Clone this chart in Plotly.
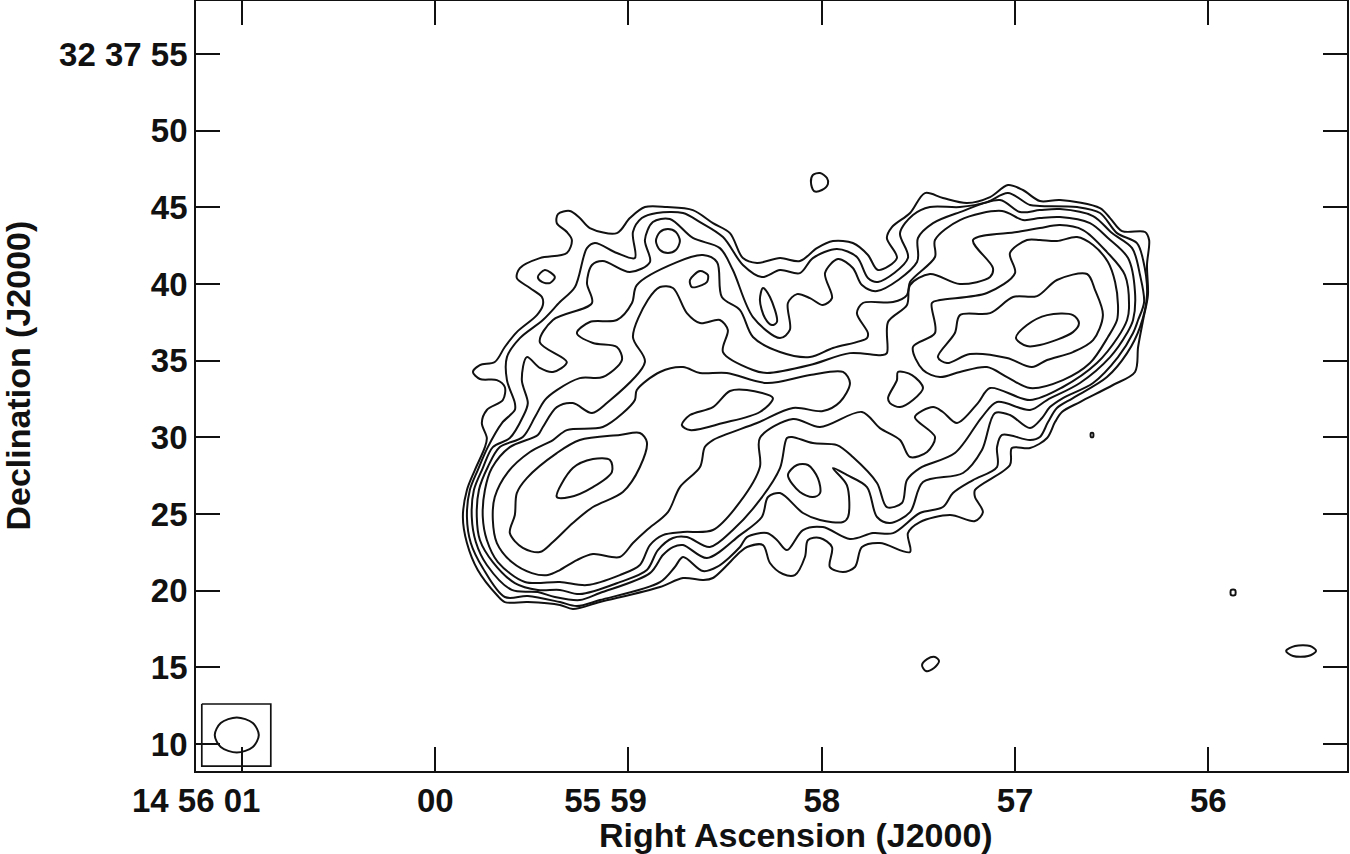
import plotly.graph_objects as go

# Right ascension in seconds (60 = 14 56 00), declination in arcsec past 32 37 00
ra_a = [59.805,59.769,59.692,59.640,59.578,59.474,59.443,59.448,59.510,59.578,59.562,59.459,59.319,59.293,59.319,59.371,59.365,59.303,59.252,59.200,59.060,58.993,58.915,58.801,58.667,58.563,58.475,58.408,58.335,58.216,58.113,58.025,57.942,57.839,57.761,57.709,57.611,57.663,57.637,57.543,57.466,57.373,57.248,57.129,57.036,56.959,56.871,56.767,56.560,56.508,56.446,56.327,56.306,56.317,56.312,56.337,56.363,56.379,56.493,56.664,56.757,56.793,56.834,56.922,57.016,57.026,57.207,57.207,57.166,57.207,57.336,57.492,57.554,57.543,57.699,57.792,57.828,57.890,57.958,57.947,58.009,58.071,58.087,58.139,58.201,58.268,58.304,58.387,58.423,58.563,58.615,58.718,58.837,59.148,59.288,59.355,59.521,59.640,59.681,59.780,59.836,59.857,59.836,59.795,59.743,59.733,59.759,59.733,59.650,59.640,59.681,59.769]
dec_a = [34.27,34.72,34.92,35.90,36.87,37.98,38.64,39.16,39.75,40.40,41.05,41.70,42.03,42.88,43.40,43.98,44.57,44.77,44.31,43.66,43.33,44.31,45.03,45.03,44.83,43.98,43.33,41.70,41.38,41.70,41.51,42.35,42.81,42.68,41.90,40.92,41.70,43.01,43.72,44.64,45.94,45.62,45.29,45.68,46.46,46.14,45.42,45.49,44.96,44.31,43.46,43.40,42.88,41.25,39.29,37.66,35.90,34.27,33.42,32.31,31.66,31.00,29.96,29.31,29.31,28.20,26.57,26.11,25.13,24.55,24.94,24.48,23.76,22.52,23.11,22.85,21.55,21.22,21.55,22.85,23.44,23.31,22.20,21.02,21.09,21.81,22.98,22.85,22.52,20.83,20.70,20.83,20.24,19.26,18.81,19.07,19.26,19.26,19.72,21.35,23.11,24.81,26.57,27.87,29.37,29.96,30.94,31.79,32.44,33.29,33.74,33.81]

ra_b = [59.629,59.629,59.562,59.443,59.355,59.277,59.215,59.174,59.060,58.967,58.977,58.931,58.853,58.718,58.630,58.511,58.408,58.310,58.216,58.113,58.046,57.921,57.818,57.761,57.709,57.554,57.595,57.528,57.440,57.285,57.145,57.036,56.922,56.871,56.679,56.560,56.472,56.369,56.337,56.317,56.353,56.420,56.524,56.700,56.783,56.829,56.871,56.922,57.067,57.093,57.093,57.217,57.321,57.373,57.492,57.631,57.735,57.854,57.994,58.097,58.180,58.232,58.284,58.387,58.423,58.542,58.615,58.718,58.760,58.837,59.148,59.267,59.355,59.521,59.640,59.754,59.816,59.836,59.821,59.780,59.728,59.655,59.588,59.588]
dec_b = [33.74,35.24,36.48,37.66,38.83,39.81,42.35,42.68,42.03,41.70,43.40,44.31,44.64,44.64,44.05,43.07,41.25,40.46,40.92,40.72,41.70,42.29,41.77,40.40,40.14,41.70,43.33,44.51,45.03,45.03,45.35,45.94,45.16,45.10,45.03,44.64,43.33,42.68,41.57,39.29,37.20,35.50,33.94,32.57,31.92,31.00,30.03,29.83,30.16,29.37,28.07,27.22,26.37,25.46,25.07,23.76,23.76,23.37,24.15,23.96,22.65,23.31,23.76,23.50,22.85,21.55,21.28,22.20,21.55,20.56,19.39,19.00,19.26,19.65,19.59,21.48,23.11,24.81,26.57,27.87,29.37,30.94,31.79,32.24]

ra_c = [59.521,59.552,59.526,59.459,59.391,59.319,59.459,59.391,59.189,59.215,59.189,59.133,58.993,58.889,58.915,58.874,58.786,58.667,58.527,58.460,58.356,58.216,58.165,58.175,58.128,58.061,57.994,57.947,57.983,57.916,57.839,57.792,57.714,57.507,57.502,57.424,57.285,57.078,56.974,56.871,56.767,56.596,56.498,56.394,56.353,56.332,56.363,56.389,56.467,56.596,56.752,56.819,56.860,56.922,57.026,57.104,57.171,57.269,57.476,57.543,57.647,57.714,57.766,57.870,57.942,57.870,57.864,57.890,58.009,58.097,58.216,58.278,58.310,58.423,58.594,58.718,58.770,58.822,58.889,59.148,59.252,59.381,59.469,59.604,59.733,59.790,59.811,59.800,59.754,59.702,59.614,59.547]
dec_c = [32.24,33.74,35.24,34.53,34.27,34.92,36.22,37.66,38.77,40.07,41.25,41.51,40.79,41.44,42.88,44.05,44.25,43.01,42.35,40.92,37.85,36.48,37.01,38.77,39.35,39.09,38.64,39.09,40.72,41.64,41.05,39.94,39.55,41.44,43.01,43.98,44.70,45.49,44.70,44.83,44.90,44.44,43.33,42.35,40.59,38.83,37.66,36.81,35.24,33.55,32.57,31.98,31.27,30.61,31.46,31.59,29.18,27.68,27.09,25.13,24.42,24.81,26.76,27.55,28.00,26.89,24.81,24.48,24.61,25.07,26.37,26.11,24.81,23.63,22.13,22.98,22.85,22.33,21.15,19.85,19.39,19.59,19.91,20.05,21.68,23.18,24.81,26.57,28.00,29.37,29.96,31.33]

ra_d = [59.433,59.371,59.252,59.133,59.034,59.060,59.184,59.267,59.200,59.060,58.982,58.957,58.749,58.615,58.542,58.517,58.423,58.356,58.216,58.061,57.942,57.766,57.761,57.818,57.787,57.631,57.559,57.543,57.414,57.414,57.285,57.067,56.959,56.871,56.767,56.612,56.519,56.415,56.379,56.389,56.420,56.508,56.664,56.834,56.922,57.093,57.171,57.311,57.492,57.559,57.585,57.663,57.714,57.839,57.921,58.046,58.154,58.180,58.216,58.320,58.460,58.579,58.698,58.770,58.848,58.905,59.045,59.252,59.355,59.469,59.588,59.702,59.769,59.785,59.774,59.728,59.666,59.547,59.484]
dec_d = [32.44,33.09,33.87,33.94,35.05,35.90,36.16,36.81,37.53,37.66,38.77,39.94,41.44,41.90,41.44,39.16,38.31,36.55,35.57,35.24,35.83,36.48,36.81,38.11,38.77,38.83,39.29,40.14,41.77,42.88,44.18,44.77,44.18,44.31,44.38,43.98,43.01,41.70,39.48,37.66,36.81,35.24,33.55,32.44,31.79,32.31,31.33,28.98,28.00,27.22,25.72,25.46,27.03,28.72,29.50,29.63,30.03,29.96,28.00,25.92,23.96,22.85,23.50,23.44,22.65,21.35,20.56,19.78,20.05,20.05,20.50,21.87,23.31,24.81,26.57,28.07,29.37,30.03,31.33]

ra_e = [59.443,59.371,59.288,59.189,59.112,58.915,58.977,58.900,58.837,58.770,58.698,58.630,58.527,58.486,58.511,58.356,58.284,58.061,57.854,57.688,57.663,57.657,57.559,57.543,57.440,57.285,57.129,57.114,57.217,56.990,56.871,56.767,56.648,56.524,56.431,56.410,56.420,56.467,56.576,56.752,56.922,57.129,57.192,57.300,57.373,57.424,57.518,57.414,57.455,57.543,57.595,57.699,57.792,58.009,58.149,58.320,58.320,58.423,58.563,58.718,58.822,58.889,58.941,59.045,59.215,59.355,59.536,59.676,59.733,59.754,59.743,59.707,59.614,59.469]
dec_e = [30.68,31.98,32.24,31.59,32.24,34.92,36.55,38.96,39.81,39.75,38.11,37.46,37.66,37.01,35.57,34.40,34.20,34.72,35.50,35.37,35.50,37.53,38.64,39.94,40.66,40.01,40.46,41.05,42.88,43.40,43.66,43.85,43.53,42.09,40.59,38.44,37.66,36.55,34.85,33.29,32.44,33.22,32.24,30.94,31.66,31.98,31.33,30.03,29.05,28.72,29.83,30.61,31.66,30.68,31.20,29.96,28.07,25.79,23.96,23.83,23.63,22.98,21.68,21.02,20.37,20.57,20.57,21.87,23.31,24.81,26.57,28.00,29.37,30.16]

ra_f1 = [58.977,59.045,59.184,59.267,59.355,59.417,59.500,59.604,59.681,59.702,59.692,59.624,59.510,59.391,59.319,59.133,59.029,58.967,58.957,58.837,58.718,58.630,58.491,58.284,58.061,57.890,57.854,57.906,57.994,58.149,58.335,58.563,58.605,58.630,58.734,58.796,58.905]
dec_f1 = [23.11,22.20,22.39,22.00,21.35,21.02,21.15,21.87,23.11,24.61,26.11,27.74,29.05,29.83,30.48,30.68,31.59,32.44,33.09,34.27,34.59,34.20,34.20,33.55,34.07,34.27,33.55,32.31,31.72,31.92,30.94,29.83,29.37,28.07,26.76,25.13,23.96]

ra_f2 = [57.026,56.938,56.871,56.783,56.679,56.596,56.519,56.482,56.467,56.472,56.519,56.612,56.752,56.922,57.041,57.145,57.285,57.388,57.476,57.528,57.414,57.430,57.388,57.145,57.000]
dec_f2 = [42.03,42.88,42.88,42.81,43.07,42.55,41.44,40.14,38.64,37.66,36.55,34.85,33.74,33.22,33.94,34.59,34.27,33.94,34.40,35.90,36.81,38.77,38.96,39.42,40.72]

ra_g1 = [59.614,59.588,59.578,59.526,59.371,59.252,59.045,58.941,58.905,58.941,59.029,59.184,59.288,59.391,59.459,59.547]
dec_g1 = [23.76,24.94,26.37,27.35,28.98,29.83,30.16,30.29,29.70,28.07,26.44,25.46,24.42,23.18,22.52,22.79]
ra_h1 = [59.371,59.288,59.184,59.096,59.086,59.184,59.303]
dec_h1 = [26.11,28.00,28.59,28.53,27.74,26.76,26.11]
ra_g2 = [58.724,58.682,58.563,58.475,58.387,58.253,58.320,58.511,58.682]
dec_g2 = [30.81,31.46,31.98,33.03,33.09,32.57,31.66,30.94,30.48]
ra_g3 = [58.175,58.128,58.071,58.020,58.009,58.046,58.113]
dec_g3 = [27.55,28.20,28.20,27.35,26.37,26.11,26.44]
ra_g4 = [57.606,57.533,57.476,57.528,57.595,57.647,57.657,57.611]
dec_g4 = [34.27,34.07,33.22,32.44,31.98,32.24,32.57,33.74]
ra_g5 = [57.399,57.311,57.285,57.129,57.010,56.886,56.783,56.627,56.586,56.545,56.596,56.700,56.834,56.912,57.041,57.233,57.352]
dec_g5 = [35.24,36.81,37.98,38.11,39.16,39.22,40.27,40.66,39.62,37.98,36.35,35.57,35.05,34.59,35.18,35.44,34.85]
ra_h2 = [56.995,56.938,56.834,56.700,56.669,56.700,56.871,56.938]
dec_h2 = [36.48,37.33,37.98,37.98,37.46,36.87,36.03,35.96]

ra_s1 = [58.304,58.268,58.232,58.258,58.294,58.320]
dec_s1 = [39.75,39.16,37.53,37.33,37.79,38.96]
ra_s2 = [58.589,58.630,58.682,58.672,58.620,58.594]
dec_s2 = [40.59,40.85,40.27,39.81,39.94,40.14]
ra_s3 = [58.734,58.755,58.796,58.837,58.858,58.837,58.796,58.755]
dec_s3 = [42.81,43.40,43.59,43.40,42.81,42.22,42.03,42.22]
ra_s4 = [59.469,59.433,59.381,59.407,59.448]
dec_s4 = [40.46,40.92,40.46,40.07,40.14]
ra_s5 = [58.056,58.046,58.009,57.973,57.968,57.999,58.040]
dec_s5 = [46.66,47.12,47.25,46.92,46.53,46.14,46.07]
ra_s6 = [56.607,56.596,56.596,56.607]
dec_s6 = [30.29,30.29,30.03,30.03]
ra_s7 = [55.882,55.861,55.861,55.882]
dec_s7 = [20.05,20.05,19.72,19.72]
ra_s8 = [57.481,57.455,57.414,57.393,57.419,57.461]
dec_s8 = [15.15,15.54,15.68,15.41,14.96,14.76]
ra_s9 = [55.597,55.551,55.473,55.442,55.483,55.561]
dec_s9 = [16.07,16.39,16.39,16.07,15.74,15.74]

ra_beam = [61.141,61.110,61.027,60.944,60.913,60.944,61.027,61.110]
dec_beam = [10.59,11.37,11.73,11.37,10.59,9.80,9.45,9.80]
ra_box = [61.208,60.851,60.851,61.208,61.208]
dec_box = [12.61,12.61,8.56,8.56,12.61]

ra_ticks = [61,60,59,58,57,56]
ra_labels = ["14 56 01","00","55 59","58","57","56"]
dec_ticks = [10,15,20,25,30,35,40,45,50,55]
dec_labels = ["10","15","20","25","30","35","40","45","50","32 37 55"]

contours = [(ra_a,dec_a),(ra_b,dec_b),(ra_c,dec_c),(ra_d,dec_d),(ra_e,dec_e),(ra_f1,dec_f1),(ra_f2,dec_f2),
            (ra_g1,dec_g1),(ra_h1,dec_h1),(ra_g2,dec_g2),(ra_g3,dec_g3),(ra_g4,dec_g4),(ra_g5,dec_g5),(ra_h2,dec_h2),
            (ra_s1,dec_s1),(ra_s2,dec_s2),(ra_s3,dec_s3),(ra_s4,dec_s4),(ra_s5,dec_s5),(ra_s6,dec_s6),(ra_s7,dec_s7),
            (ra_s8,dec_s8),(ra_s9,dec_s9),(ra_beam,dec_beam)]

FONT = "Liberation Sans"
fig = go.Figure()
for xs, ys in contours:
    fig.add_trace(go.Scatter(x=xs+xs[:1], y=ys+ys[:1], mode="lines", hoverinfo="skip", showlegend=False,
                             line=dict(color="#111111", width=2, shape="spline", smoothing=0.9)))
fig.add_trace(go.Scatter(x=ra_box, y=dec_box, mode="lines", hoverinfo="skip", showlegend=False,
                         line=dict(color="#111111", width=1.7)))

# trailing no-break spaces keep the last field of a sexagesimal label centred on its tick
pad = {"14 56 01": "\u00a0"*10, "55 59": "\u00a0"*5}
axis_common = dict(showgrid=False, zeroline=False, showline=True, linecolor="#111111", linewidth=1.7,
                   mirror="allticks", ticks="inside", ticklen=24, tickwidth=1.7, tickcolor="#111111",
                   tickfont=dict(family=FONT, size=33, color="#111111", weight=700))
fig.update_xaxes(range=[61.238, 55.282], tickmode="array", tickvals=ra_ticks,
                 ticktext=[t + pad.get(t, "") for t in ra_labels], tickangle=0, **axis_common)
fig.update_yaxes(range=[8.24, 58.47], tickmode="array", tickvals=dec_ticks, ticktext=dec_labels, **axis_common)

fig.update_layout(width=1350, height=854, margin=dict(l=196, r=3, t=1, b=83, autoexpand=False),
                  paper_bgcolor="white", plot_bgcolor="white",
                  annotations=[
                      dict(text="Right Ascension (J2000)", xref="paper", yref="paper", x=0.521, y=-0.083,
                           xanchor="center", yanchor="middle", showarrow=False, borderpad=0,
                           font=dict(family=FONT, size=34, color="#111111", weight=700)),
                      dict(text="Declination (J2000)", xref="paper", yref="paper", x=-0.155, y=0.513,
                           xanchor="center", yanchor="middle", textangle=-90, showarrow=False, borderpad=0,
                           font=dict(family=FONT, size=34, color="#111111", weight=700)),
                  ])
fig.write_html("out.html", config={"displayModeBar": False}, post_script="document.body.style.margin='0';")
